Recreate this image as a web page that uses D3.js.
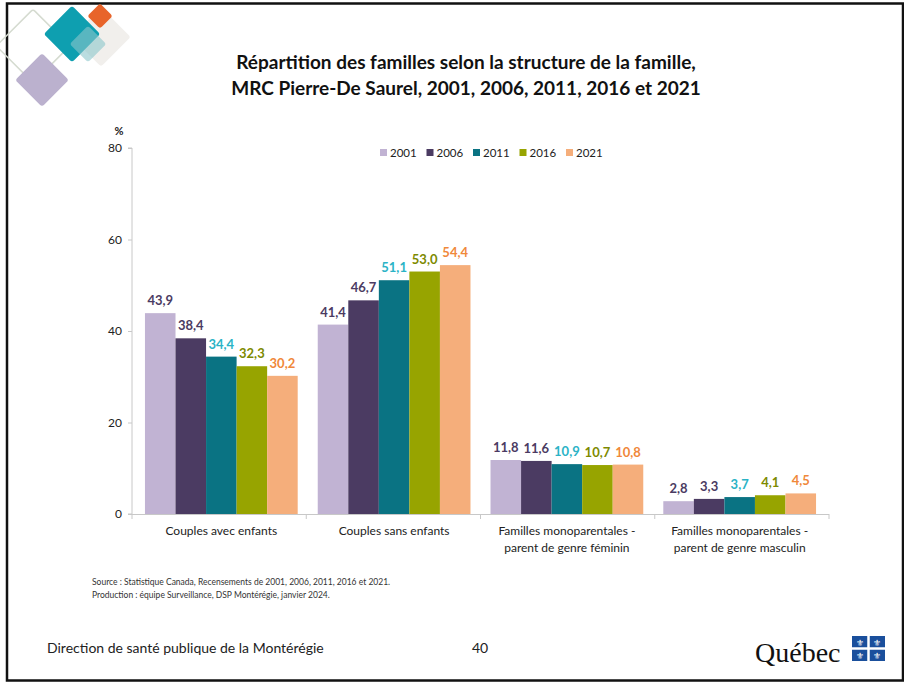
<!DOCTYPE html>
<html><head><meta charset="utf-8">
<script src="https://cdn.jsdelivr.net/npm/d3@7"></script>
<style>body{margin:0;background:#fff;}svg{display:block;font-family:Lato,"Open Sans",sans-serif;}</style>
</head><body>
<svg id="c" width="904" height="683"></svg>
<script>
const categories = [["Couples avec enfants"],["Couples sans enfants"],["Familles monoparentales -","parent de genre féminin"],["Familles monoparentales -","parent de genre masculin"]];
const years = ["2001","2006","2011","2016","2021"];
const v2001 = [43.9, 41.4, 11.8, 2.8];
const v2006 = [38.4, 46.7, 11.6, 3.3];
const v2011 = [34.4, 51.1, 10.9, 3.7];
const v2016 = [32.3, 53.0, 10.7, 4.1];
const v2021 = [30.2, 54.4, 10.8, 4.5];
const yTicks = [0, 20, 40, 60, 80];
const series = [v2001, v2006, v2011, v2016, v2021];
const barColors = ["#c1b3d3", "#4b3b62", "#0a7383", "#97a400", "#f5ae7b"];
const labelColors = ["#4b3b62", "#4b3b62", "#2bb3c6", "#7d8a00", "#f0883a"];

const svg = d3.select("#c");
// frame
svg.append("rect").attr("x",7).attr("y",3.5).attr("width",896).attr("height",677).attr("fill","none").attr("stroke","#111").attr("stroke-width",2.5);

// decorative diamonds
const deco = svg.append("g");
function diamond(cx, cy, r, fill, stroke, op){
  deco.append("rect").attr("x",cx-r).attr("y",cy-r).attr("width",2*r).attr("height",2*r).attr("rx",3)
    .attr("transform",`rotate(45 ${cx} ${cy})`).attr("fill",fill).attr("stroke",stroke||"none").attr("stroke-width",1.5).attr("opacity",op||1);
}
diamond(33, 46, 26, "none", "#d5dbd0");
diamond(42, 80, 19, "#bbb1ce");
diamond(101, 37, 21, "#f1efec");
diamond(72, 34, 20, "#0e9fb0");
diamond(100, 16, 9, "#e8642a");
diamond(88, 44, 13, "#8cc7cc", null, 0.6);

// title
svg.append("text").attr("x",466).attr("y",69).attr("text-anchor","middle").attr("font-size",19).attr("font-weight","bold").attr("fill","#111").text("Répartition des familles selon la structure de la famille,");
svg.append("text").attr("x",466).attr("y",95).attr("text-anchor","middle").attr("font-size",19).attr("font-weight","bold").attr("fill","#111").text("MRC Pierre-De Saurel, 2001, 2006, 2011, 2016 et 2021");

const x0 = d3.scaleBand().domain(d3.range(categories.length)).range([132, 829]).paddingInner(0.116).paddingOuter(0.075);
const x1 = d3.scaleBand().domain(d3.range(years.length)).range([0, x0.bandwidth()]);
const y = d3.scaleLinear().domain([0, 80]).range([514, 148]);

// y axis
const yAxis = svg.append("g").attr("transform","translate(132,0)").call(d3.axisLeft(y).tickValues(yTicks).tickSize(4).tickPadding(6));
yAxis.select(".domain").attr("stroke","#c8c8c8").attr("d","M-4,148H0V514H-4");
yAxis.selectAll(".tick line").attr("stroke","#c8c8c8");
yAxis.selectAll(".tick text").attr("font-size",12).attr("fill","#222").attr("font-family","Lato,sans-serif");
svg.append("text").attr("x",119).attr("y",135).attr("text-anchor","middle").attr("font-size",11).attr("font-weight","bold").attr("fill","#222").text("%");

// x axis
const xs = d3.scaleLinear().domain([0,4]).range([132, 829]);
svg.append("line").attr("x1",132).attr("x2",829).attr("y1",514.5).attr("y2",514.5).attr("stroke","#c8c8c8");
svg.selectAll(".xt").data(d3.range(5)).join("line").attr("x1",d=>xs(d)).attr("x2",d=>xs(d)).attr("y1",514).attr("y2",519).attr("stroke","#c8c8c8");

// bars
const g = svg.append("g");
categories.forEach((cat, ci) => {
  series.forEach((s, si) => {
    const bx = x0(ci) + x1(si);
    g.append("rect").attr("x", bx).attr("y", y(s[ci])).attr("width", x1.bandwidth()).attr("height", y(0) - y(s[ci])).attr("fill", barColors[si]);
    g.append("text").attr("x", bx + x1.bandwidth()/2).attr("y", y(s[ci]) - 8).attr("text-anchor","middle")
      .attr("font-size",13).attr("font-weight","bold").attr("fill",labelColors[si]).text(d3.format(".1f")(s[ci]).replace(".",","));
  });
  const cx = x0(ci) + x0.bandwidth()/2;
  cat.forEach((line, li) => {
    svg.append("text").attr("x", cx).attr("y", 535 + li*17).attr("text-anchor","middle").attr("font-size",12).attr("fill","#222").text(line);
  });
});

// legend
const leg = svg.append("g");
years.forEach((yr, i) => {
  const lx = 380 + i*46.5;
  leg.append("rect").attr("x", lx).attr("y", 149).attr("width",7).attr("height",7).attr("fill",barColors[i]);
  leg.append("text").attr("x", lx+10).attr("y", 157).attr("font-size",11.5).attr("fill","#222").text(yr);
});

// source
svg.append("text").attr("x",92).attr("y",585).attr("font-size",8.5).attr("fill","#333").text("Source : Statistique Canada, Recensements de 2001, 2006, 2011, 2016 et 2021.");
svg.append("text").attr("x",92).attr("y",598).attr("font-size",8.5).attr("fill","#333").text("Production : équipe Surveillance, DSP Montérégie, janvier 2024.");

// footer
svg.append("text").attr("x",47).attr("y",653).attr("font-size",14).attr("fill","#222").text("Direction de santé publique de la Montérégie");
svg.append("text").attr("x",480).attr("y",653).attr("text-anchor","middle").attr("font-size",14).attr("fill","#222").text("40");

// Québec logo
svg.append("text").attr("x",755).attr("y",662).attr("font-size",28).attr("font-family","'Liberation Serif',serif").attr("fill","#111").text("Québec");
const fl = svg.append("g");
fl.append("rect").attr("x",852).attr("y",636).attr("width",33).attr("height",25).attr("fill","#1a4f9c");
fl.append("line").attr("x1",868.5).attr("x2",868.5).attr("y1",636).attr("y2",661).attr("stroke","#fff").attr("stroke-width",2.5);
fl.append("line").attr("x1",852).attr("x2",885).attr("y1",648.5).attr("y2",648.5).attr("stroke","#fff").attr("stroke-width",2.5);
[[860,642],[877,642],[860,655],[877,655]].forEach(([fx,fy])=>{
  fl.append("text").attr("x",fx).attr("y",fy+3.5).attr("text-anchor","middle").attr("font-size",9).attr("font-family","'DejaVu Sans',sans-serif").attr("fill","#fff").text("⚜");
});
</script>
</body></html>
